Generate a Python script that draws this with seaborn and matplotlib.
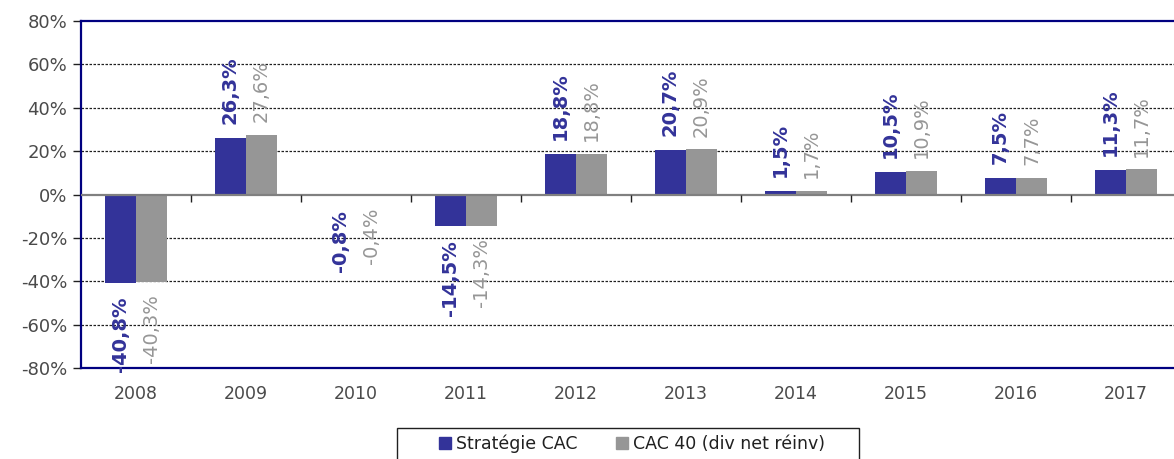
import matplotlib
matplotlib.use("Agg")
import matplotlib.pyplot as plt
import matplotlib.patches as mpatches
import numpy as np
import pandas as pd
import seaborn as sns

years = ["2008", "2009", "2010", "2011", "2012", "2013", "2014", "2015", "2016", "2017"]
strategie_cac = [-40.8, 26.3, -0.8, -14.5, 18.8, 20.7, 1.5, 10.5, 7.5, 11.3]
cac40_div = [-40.3, 27.6, -0.4, -14.3, 18.8, 20.9, 1.7, 10.9, 7.7, 11.7]
series_names = ["Stratégie CAC", "CAC 40 (div net réinv)"]
y_ticks = [-80, -60, -40, -20, 0, 20, 40, 60, 80]

BLUE = "#333399"
GREY = "#969696"
NAVY = "#000080"
TICK_GREY = "#4a4a4a"

df = pd.DataFrame({
    "year": years * 2,
    "series": [series_names[0]] * len(years) + [series_names[1]] * len(years),
    "value": strategie_cac + cac40_div,
})

sns.set_style("white")
plt.rcParams["font.family"] = ["DejaVu Sans"]

fig = plt.figure(figsize=(11.74, 4.59), dpi=100)
ax = fig.add_axes([0.069, 0.198, 1.006 - 0.069, 0.756])

sns.barplot(data=df, x="year", y="value", hue="series", order=years,
            hue_order=series_names, palette=[BLUE, GREY], width=0.565,
            saturation=1, ax=ax, legend=False, zorder=3, linewidth=0)

ax.set_ylim(y_ticks[0], y_ticks[-1])
ax.set_xlim(-0.5, len(years) - 0.5)
ax.set_yticks(y_ticks)
ax.set_yticklabels([f"{t}%" for t in y_ticks], fontsize=13, color=TICK_GREY)
ax.tick_params(axis="y", direction="out", length=6, width=1, color="#202020", left=True, pad=4)
ax.tick_params(axis="x", length=0, pad=12, labelsize=12.5, labelcolor=TICK_GREY)
ax.set_xlabel("")
ax.set_ylabel("")

# dashed gridlines between the outer limits
for t in y_ticks[1:-1]:
    if t != 0:
        ax.axhline(t, color="#202020", lw=0.9, ls=(0, (2.0, 1.2)), zorder=1)
ax.axhline(0, color="#808080", lw=1.6, zorder=4)
# category separator ticks on the zero line
bounds = np.arange(len(years) - 1) + 0.5
ax.vlines(bounds, 0, -3.2, color="#202020", lw=1, zorder=4)

for side in ["left", "top", "bottom", "right"]:
    ax.spines[side].set_visible(True)
    ax.spines[side].set_color(NAVY)
    ax.spines[side].set_linewidth(1.6)

def fmt(v):
    return f"{v:.1f}%".replace(".", ",")

ax.bar_label(ax.containers[0], labels=[fmt(v) for v in strategie_cac], rotation=90,
             padding=10, color=BLUE, fontsize=14, fontweight="bold")
ax.bar_label(ax.containers[1], labels=[fmt(v) for v in cac40_div], rotation=90,
             padding=9, color=GREY, fontsize=14)

# legend with a wide square frame
frame = mpatches.Rectangle((397 / 1174, -0.05), (859 - 397) / 1174, 1 - 428 / 459 + 0.05,
                           transform=fig.transFigure, fill=False, edgecolor="#202020",
                           lw=1.0, clip_on=False)
fig.add_artist(frame)
handles = [mpatches.Patch(color=BLUE), mpatches.Patch(color=GREY)]
fig.legend(handles, series_names, loc="center", bbox_to_anchor=(632 / 1174, 1 - 444 / 459),
           ncol=2, frameon=False, fontsize=12.5, handlelength=0.7, handleheight=0.7,
           handletextpad=0.3, columnspacing=2.2, labelcolor="#202020")

fig.savefig("out.png", dpi=100)
